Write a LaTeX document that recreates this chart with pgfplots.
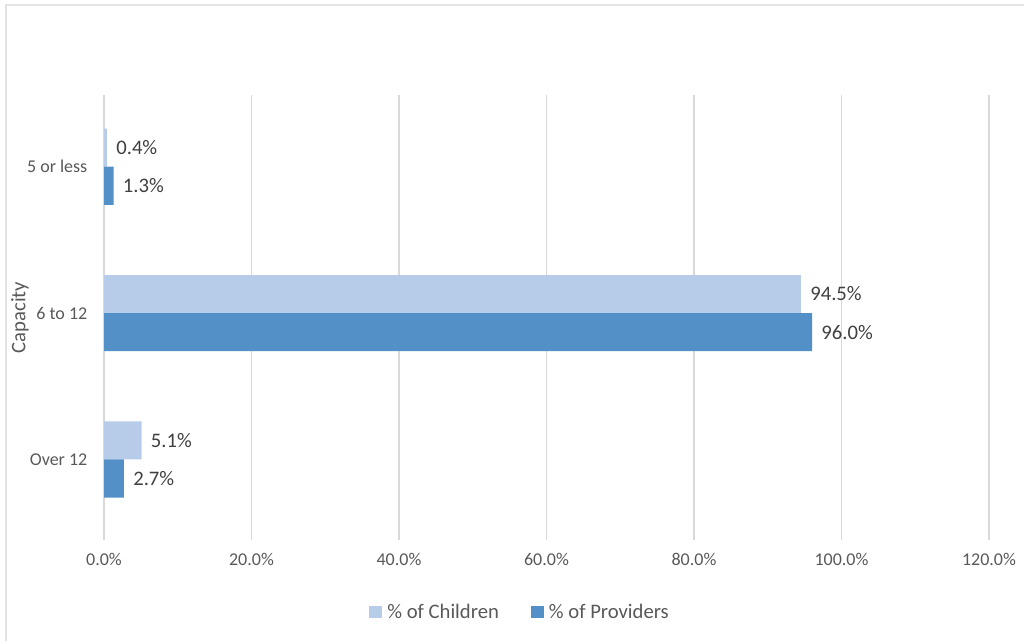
\documentclass[border=0pt]{standalone}
\usepackage{pgfplots}
\pgfplotsset{compat=1.18}
\usepackage{fontspec}
\setmainfont{Carlito}
\definecolor{cchild}{HTML}{B7CCE8}
\definecolor{cprov}{HTML}{5390C7}
\definecolor{ticktxt}{HTML}{595959}
\definecolor{lbltxt}{HTML}{404040}
\definecolor{gridc}{HTML}{D9D9D9}
\begin{document}
\begin{tikzpicture}[x=0.75pt,y=0.75pt]
\path[use as bounding box] (0,0) rectangle (1024,641);
\draw[color=gridc!70, line width=1.2pt] (6,0) -- (6,636) -- (1024,636);
\begin{axis}[
  at={(78pt,75.75pt)}, anchor=south west,
  scale only axis, width=663.75pt, height=333.75pt,
  xmin=0, xmax=120, ymin=-0.55, ymax=2.49,
  xtick={0,20,...,120},
  xticklabel={\pgfmathprintnumber[fixed,fixed zerofill,precision=1]{\tick}\%},
  ytick={0,1,2},
  yticklabels={Over 12, 6 to 12, 5 or less},
  axis line style={draw=none},
  tick style={draw=none},
  xmajorgrids,
  major grid style={draw=gridc, line width=0.8pt},
  tick label style={font=\fontsize{13.5}{15}\selectfont, text=ticktxt},
  /pgf/number format/assume math mode=true,
  yticklabel style={xshift=-9pt},
  xticklabel style={yshift=-6.5pt},
  ylabel={Capacity},
  ylabel style={at={(axis description cs:-0.095,0.5)}, anchor=center, font=\fontsize{15.5}{17}\selectfont, text=ticktxt},
  point meta=x,
  nodes near coords={\pgfmathprintnumber[fixed,fixed zerofill,precision=1]{\pgfplotspointmeta}\%},
  nodes near coords style={anchor=west, xshift=3.5pt, font=\fontsize{15.5}{17}\selectfont, text=lbltxt},
  legend columns=2,
  legend style={at={(axis description cs:0.472,-0.162)}, anchor=center, draw=none, fill=none,
    font=\fontsize{15.5}{17}\selectfont, text=ticktxt,
    nodes={inner xsep=4pt},
    /tikz/every even column/.append style={column sep=20pt}},
  legend image code/.code={\fill[#1,draw=none] (0pt,-4.5pt) rectangle (9.5pt,4.5pt);},
]
\addplot[xbar, fill=cchild, draw=none, bar width=0.26, bar shift=0.13,
  every node near coord/.append style={yshift=14.3pt}]
  coordinates {(5.1,0) (94.5,1) (0.4,2)};
\addlegendentry{\% of Children}
\addplot[xbar, fill=cprov, draw=none, bar width=0.26, bar shift=-0.13,
  every node near coord/.append style={yshift=-14.3pt}]
  coordinates {(2.7,0) (96.0,1) (1.3,2)};
\addlegendentry{\% of Providers}
\end{axis}
\end{tikzpicture}
\end{document}
